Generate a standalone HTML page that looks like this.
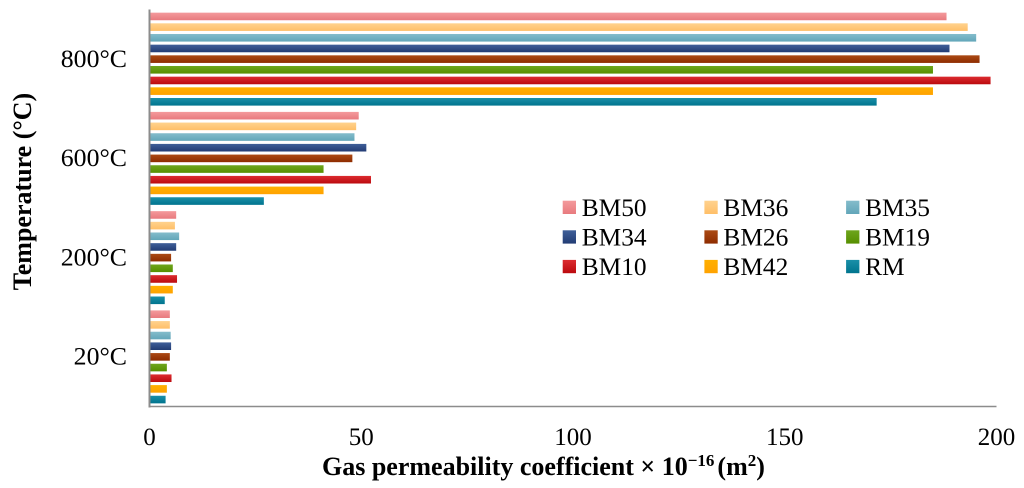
<!DOCTYPE html>
<html>
<head>
<meta charset="utf-8">
<style>
html,body{margin:0;padding:0;background:#fff;}
body{width:1024px;height:488px;overflow:hidden;}
svg{display:block;font-family:"Liberation Serif",serif;}
</style>
</head>
<body>
<svg id="chart" width="1024" height="488" viewBox="0 0 1024 488" xmlns="http://www.w3.org/2000/svg">
  <defs id="gradients"></defs>
  <g id="bars"></g>
  <g id="axes"></g>
  <g id="legend"></g>
  <text transform="translate(31,191.5) rotate(-90)" text-anchor="middle" font-size="26" font-weight="bold" fill="#000">Temperature (°C)</text>
  <text x="322" y="475" font-size="26" font-weight="bold" fill="#000">Gas permeability coefficient × 10<tspan font-size="17" dy="-9">−16</tspan><tspan dy="9" dx="3">(m</tspan><tspan font-size="17" dy="-9">2</tspan><tspan dy="9">)</tspan></text>
</svg>
<script>
// Categories, bottom to top
const categories = ['20°C', '200°C', '600°C', '800°C'];
const xTicks = [0, 50, 100, 150, 200];
const seriesNames = ['BM50', 'BM36', 'BM35', 'BM34', 'BM26', 'BM19', 'BM10', 'BM42', 'RM'];
// Series values, one per category
const bm50 = [4.8, 6.3, 49.4, 188.2];
const bm36 = [4.8, 6.0, 48.8, 193.2];
const bm35 = [5.0, 7.0, 48.4, 195.2];
const bm34 = [5.1, 6.3, 51.2, 188.9];
const bm26 = [4.8, 5.1, 47.9, 196.0];
const bm19 = [4.1, 5.5, 41.1, 185.0];
const bm10 = [5.2, 6.5, 52.3, 198.6];
const bm42 = [4.1, 5.5, 41.1, 185.0];
const rm = [3.8, 3.6, 27.0, 171.7];
const seriesValues = [bm50, bm36, bm35, bm34, bm26, bm19, bm10, bm42, rm];
const topColors = ['#f49a9c', '#ffd28e', '#84bccb', '#3f5f99', '#ab4a14', '#6ea51c', '#dc2c30', '#ffb000', '#1a8fa8'];
const bottomColors = ['#e87a7e', '#ffbf68', '#62a6b9', '#223c74', '#8e2c00', '#568f00', '#bb0a0e', '#ffa200', '#00748e'];

const svgNS = 'http://www.w3.org/2000/svg';
const plotLeft = 149.5, plotRight = 996.5, plotTop = 9.5, plotBottom = 406.5;
const xMax = 200;
const barHeight = 7.6;
const slotHeight = 10.67;

function xScale(v) {
  return plotLeft + (v / xMax) * (plotRight - plotLeft);
}
function groupCenter(catIndex) {
  const band = (plotBottom - plotTop) / categories.length;
  return plotBottom - band * (catIndex + 0.5);
}
function barCenter(catIndex, seriesIndex) {
  return groupCenter(catIndex) + (seriesIndex - (seriesNames.length - 1) / 2) * slotHeight;
}
function make(tag, attrs, parent) {
  const el = document.createElementNS(svgNS, tag);
  for (const k in attrs) el.setAttribute(k, attrs[k]);
  parent.appendChild(el);
  return el;
}

const defs = document.getElementById('gradients');
const barsG = document.getElementById('bars');
const axesG = document.getElementById('axes');
const legendG = document.getElementById('legend');

seriesNames.forEach(function (name, s) {
  const g = make('linearGradient', { id: 'grad' + s, x1: 0, y1: 0, x2: 0, y2: 1 }, defs);
  make('stop', { offset: '0', 'stop-color': topColors[s] }, g);
  make('stop', { offset: '1', 'stop-color': bottomColors[s] }, g);
});

seriesNames.forEach(function (name, s) {
  categories.forEach(function (cat, c) {
    const rect = make('rect', {
      x: xScale(0),
      y: barCenter(c, s) - barHeight / 2,
      width: xScale(seriesValues[s][c]) - xScale(0),
      height: barHeight,
      fill: 'url(#grad' + s + ')'
    }, barsG);
    
    
  });
});

const yLine = make('line', { x1: plotLeft, x2: plotLeft, y1: plotTop, y2: plotBottom + 1, stroke: '#8c8c8c', 'stroke-width': 2 }, axesG);


const xLine = make('line', { x1: plotLeft, x2: plotRight, y1: plotBottom, y2: plotBottom, stroke: '#8c8c8c', 'stroke-width': 1.6 }, axesG);



xTicks.forEach(function (t) {
  const label = make('text', { x: xScale(t), y: 445, 'text-anchor': 'middle', 'font-size': 25, fill: '#000' }, axesG);
  
  
  label.textContent = t;
});

categories.forEach(function (cat, c) {
  const label = make('text', { x: 127, y: groupCenter(c) + 7.8, 'text-anchor': 'end', 'font-size': 25.8, fill: '#000' }, axesG);
  
  
  label.textContent = cat;
});

seriesNames.forEach(function (name, s) {
  const col = s % 3, row = Math.floor(s / 3);
  const sx = 562.7 + col * 141.7;
  const sy = 200.7 + row * 29.6;
  const swatch = make('rect', { x: sx, y: sy, width: 13.3, height: 13.3, fill: 'url(#grad' + s + ')' }, legendG);
  
  
  const label = make('text', { x: sx + 19, y: sy + 15.2, 'font-size': 25.4, fill: '#000' }, legendG);
  
  
  label.textContent = name;
});
</script>
</body>
</html>
